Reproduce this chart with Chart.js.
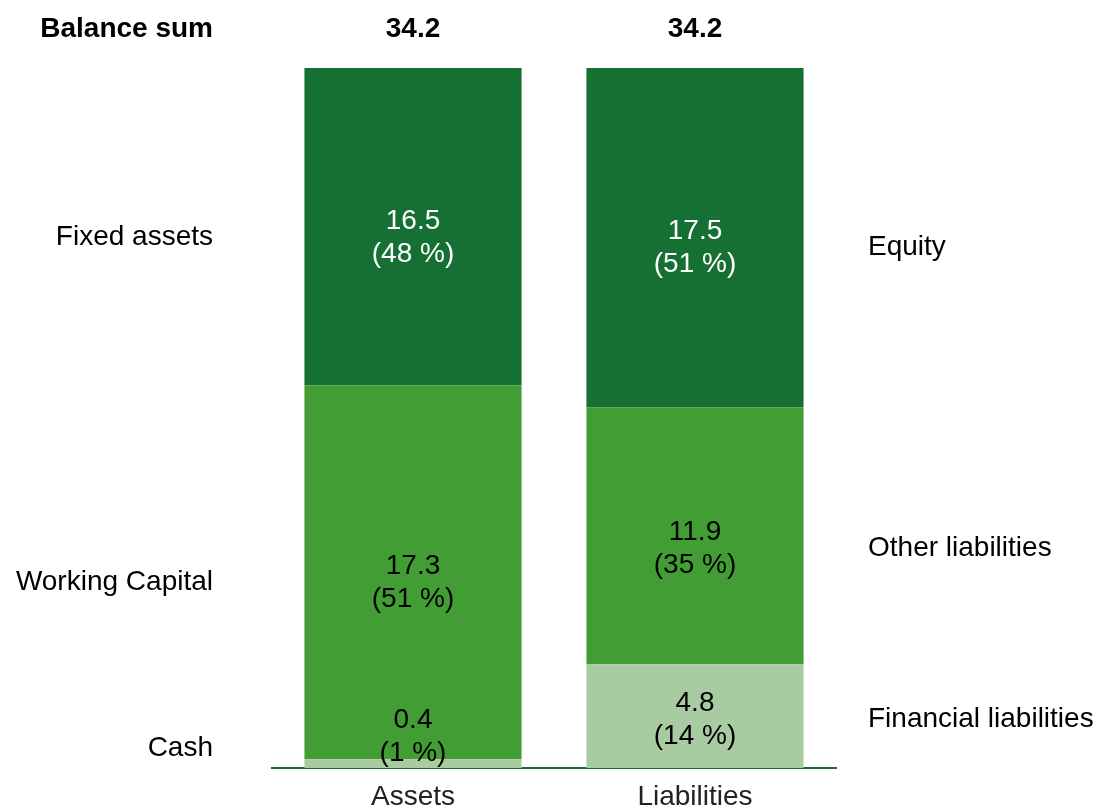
<!DOCTYPE html>
<html>
<head>
<meta charset="utf-8">
<script src="https://cdn.jsdelivr.net/npm/chart.js@4"></script>
<style>
html,body{margin:0;padding:0;background:#fff;}
canvas{display:block;}
</style>
</head>
<body>
<canvas id="c" width="1097" height="808"></canvas>
<script>
const categories = ["Assets", "Liabilities"];
const bottomValues = [0.4, 4.8];
const middleValues = [17.3, 11.9];
const topValues = [16.5, 17.5];
const bottomPct = [1, 14];
const middlePct = [51, 35];
const topPct = [48, 51];
const totals = ["34.2", "34.2"];
const totalValues = [34.2, 34.2];
const leftLabels = ["Cash", "Working Capital", "Fixed assets"];
const rightLabels = ["Financial liabilities", "Other liabilities", "Equity"];
const headerLabel = "Balance sum";
const yAxisMax = 32.4;

const FONT = '"Liberation Sans", Arial, sans-serif';
const colors = ["#a9cba1", "#439d35", "#177033"];
const textColors = ["#000000", "#000000", "#ffffff"];
const pcts = [bottomPct, middlePct, topPct];

const labelPlugin = {
  id: 'labels',
  afterDatasetsDraw(chart) {
    const ctx = chart.ctx;
    const area = chart.chartArea;
    const h = area.bottom - area.top;
    ctx.save();
    ctx.font = '28px ' + FONT;
    ctx.textBaseline = 'middle';
    const cum = [0, 0];
    chart.data.datasets.forEach((ds, i) => {
      const meta = chart.getDatasetMeta(i);
      meta.data.forEach((el, j) => {
        const v = ds.data[j];
        let cy = area.bottom - (cum[j] + v / 2) / totalValues[j] * h;
        cum[j] += v;
        let sideY = cy;
        if (cy > area.bottom - 33) { cy = area.bottom - 32; sideY = area.bottom - 20; }
        ctx.fillStyle = textColors[i];
        ctx.textAlign = 'center';
        ctx.fillText(v.toFixed(1), el.x, cy - 16);
        ctx.fillText('(' + pcts[i][j] + ' %)', el.x, cy + 17);
        ctx.fillStyle = '#000';
        if (j === 0) {
          ctx.textAlign = 'right';
          ctx.fillText(leftLabels[i], 213, sideY);
        } else {
          ctx.textAlign = 'left';
          ctx.fillText(rightLabels[i], 868, sideY);
        }
      });
    });
    // header row
    ctx.font = 'bold 28px ' + FONT;
    ctx.fillStyle = '#000';
    ctx.textAlign = 'right';
    ctx.fillText(headerLabel, 213, 29);
    ctx.textAlign = 'center';
    const meta0 = chart.getDatasetMeta(0);
    meta0.data.forEach((el, j) => {
      ctx.fillText(totals[j], el.x, 29);
    });
    ctx.restore();
  }
};

new Chart(document.getElementById('c'), {
  type: 'bar',
  data: {
    labels: categories,
    datasets: [
      { data: bottomValues, backgroundColor: colors[0] },
      { data: middleValues, backgroundColor: colors[1] },
      { data: topValues, backgroundColor: colors[2] }
    ]
  },
  options: {
    responsive: false,
    animation: false,
    layout: { padding: { left: 272, right: 261, top: 68, bottom: 0 } },
    datasets: { bar: { barPercentage: 0.77, categoryPercentage: 1.0 } },
    plugins: { legend: { display: false }, tooltip: { enabled: false } },
    scales: {
      x: {
        stacked: true,
        grid: { display: false, drawTicks: false },
        border: { display: true, color: '#1b6e31', width: 2 },
        ticks: { color: '#222', font: { size: 28, family: FONT }, padding: 12 },
        afterFit(scale) { scale.height = 40; }
      },
      y: {
        stacked: true,
        display: false,
        min: 0,
        max: yAxisMax
      }
    }
  },
  plugins: [labelPlugin]
});
</script>
</body>
</html>
